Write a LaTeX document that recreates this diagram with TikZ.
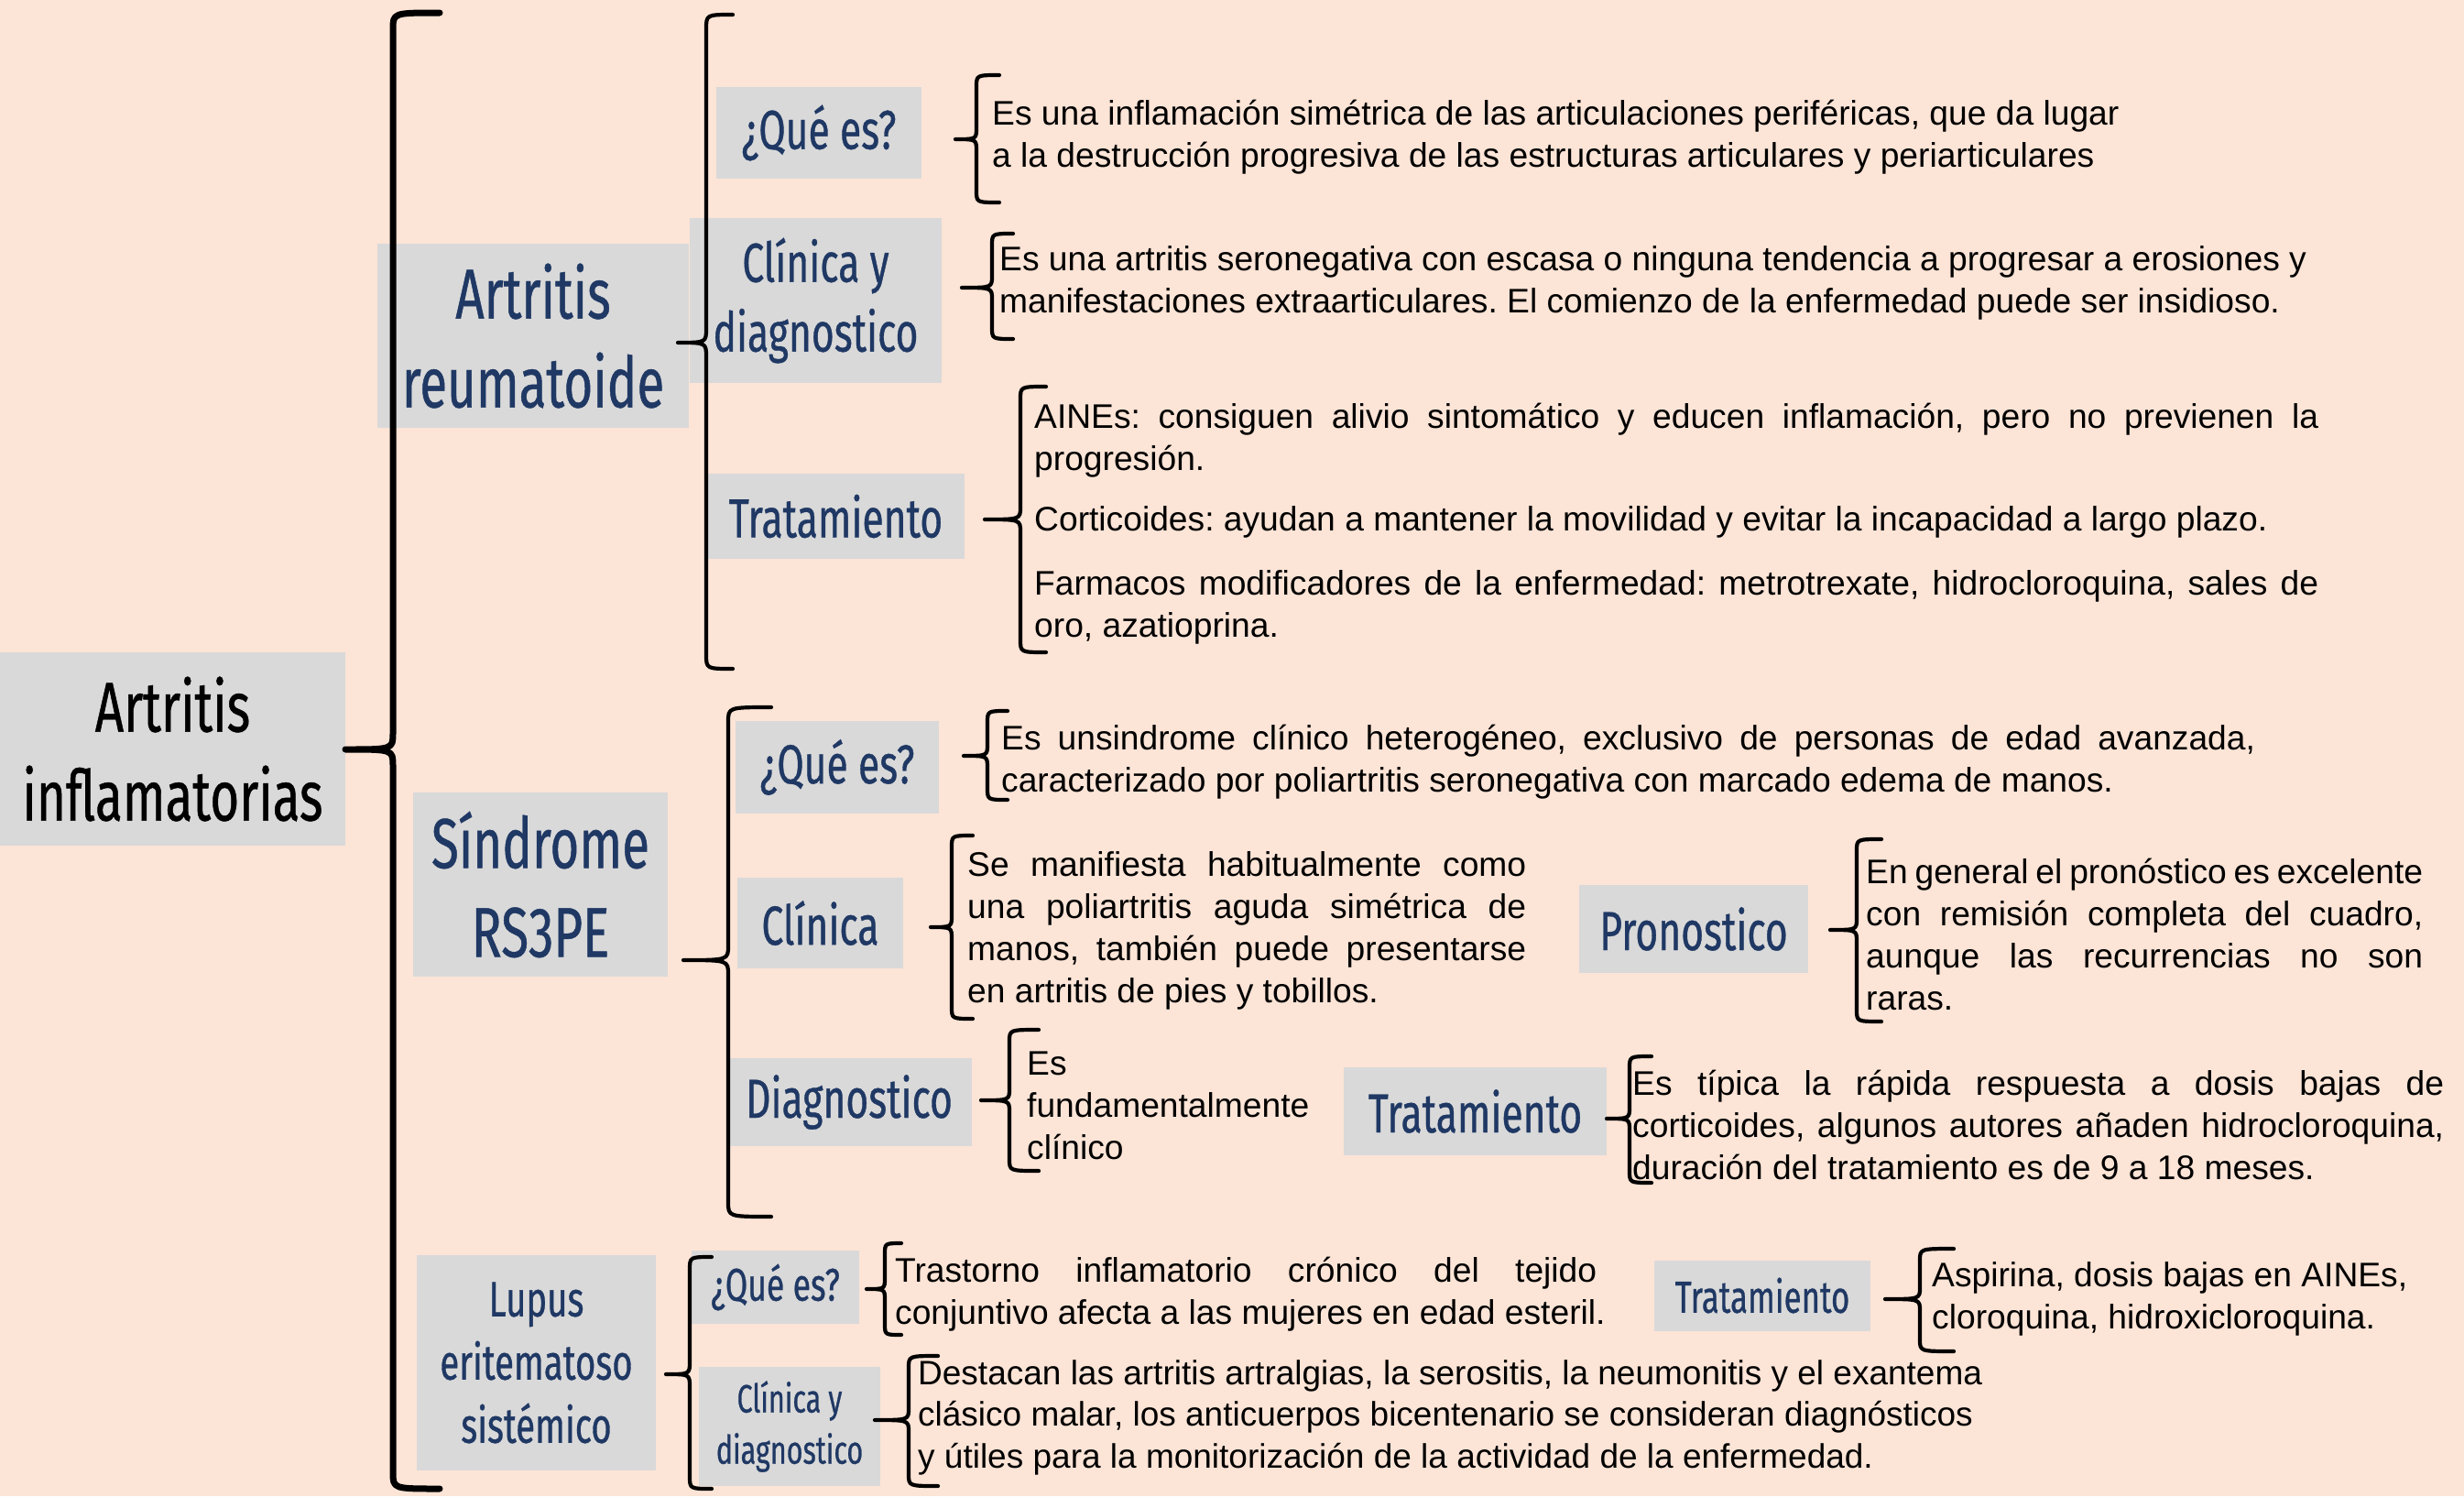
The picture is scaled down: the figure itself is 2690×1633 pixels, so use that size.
\documentclass[tikz,border=0pt]{standalone}
\usepackage{fontspec}
\setmainfont{Liberation Sans}
\newfontfamily\headfont[FakeStretch=0.71,FakeBold=0.6]{Fira Sans}
\definecolor{bgpeach}{HTML}{FCE4D6}
\definecolor{boxgray}{HTML}{D9D9D9}
\definecolor{navy}{HTML}{1F3864}
\frenchspacing
% optional style, vx, top, bottom, hookx, tipx, tipy, radius
\newcommand\brk[8][]{%
  \draw[brline,#1] ({#5},{#3}) .. controls ({#2},{#3}) .. ({#2},{#3+#8})
   -- ({#2},{#7-#8}) .. controls ({#2},{#7}) .. ({#6},{#7})
   .. controls ({#2},{#7}) .. ({#2},{#7+#8})
   -- ({#2},{#4-#8}) .. controls ({#2},{#4}) .. ({#5},{#4});}
\newcommand\jl[2]{\makebox[#1pt][s]{#2}}
\tikzset{
  hbox/.style={fill=boxgray, inner sep=0pt, align=center, text=navy},
  btext/.style={anchor=west, inner sep=0pt, align=left, font=\fontsize{37.2}{46}\selectfont},
  brline/.style={line width=4.2pt, line cap=round, line join=round},
  hbig/.style={font=\headfont\fontsize{77}{97}\selectfont},
  hmid/.style={font=\headfont\fontsize{60}{76}\selectfont},
}
\begin{document}
\begin{tikzpicture}[x=1pt,y=-1pt]
\path[fill=bgpeach] (0,0) rectangle (2690,1633);
\useasboundingbox (0,0) rectangle (2690,1633);
% boxes
\node[hbox, text=black, hbig, minimum width=377pt, minimum height=211pt] (root) at (188.5,817.5) {Artritis\\inflamatorias};
\node[hbox, hbig, minimum width=340pt, minimum height=201pt] (ar) at (582,366.5) {Artritis\\reumatoide};
\node[hbox, hmid, minimum width=224pt, minimum height=100pt] (arq) at (894,145) {¿Qué es?};
\node[hbox, hmid, minimum width=275pt, minimum height=180pt] (arc) at (890.5,328) {Clínica y\\diagnostico};
\node[hbox, hmid, minimum width=281pt, minimum height=93pt] (art) at (912.5,563.5) {Tratamiento};
\node[hbox, hbig, minimum width=278pt, minimum height=201pt] (rs) at (590,965.5) {Síndrome\\RS3PE};
\node[hbox, hmid, minimum width=222pt, minimum height=101pt] (rsq) at (914,837.5) {¿Qué es?};
\node[hbox, hmid, minimum width=181pt, minimum height=99pt] (rsc) at (895.5,1007.5) {Clínica};
\node[hbox, hmid, minimum width=268pt, minimum height=96pt] (rsd) at (927,1203) {Diagnostico};
\node[hbox, hmid, minimum width=250pt, minimum height=96pt] (rsp) at (1849,1014) {Pronostico};
\node[hbox, hmid, minimum width=287pt, minimum height=96pt] (rst) at (1610.5,1213) {Tratamiento};
\node[hbox, font=\headfont\fontsize{54}{69}\selectfont, minimum width=261pt, minimum height=235pt] (lu) at (585.5,1487.5) {Lupus\\eritematoso\\sistémico};
\node[hbox, font=\headfont\fontsize{50}{60}\selectfont, minimum width=183pt, minimum height=80pt] (luq) at (846.5,1405) {¿Qué es?};
\node[hbox, font=\headfont\fontsize{43}{56}\selectfont, minimum width=198pt, minimum height=130pt] (luc) at (862,1557) {Clínica y\\diagnostico};
\node[hbox, font=\headfont\fontsize{49}{60}\selectfont, minimum width=236pt, minimum height=77pt] (lut) at (1924,1414) {Tratamiento};
% brackets
\brk[line width=7pt]{429}{14}{1625}{480}{377}{818}{18}
\brk{771}{16}{730}{800}{740}{374}{16}
\brk{795}{772}{1328}{842}{746}{1048}{16}
\brk{753}{1372}{1625}{777}{727}{1500}{14}
\brk{1066}{82}{221}{1091}{1043}{152}{13}
\brk{1083}{255}{370}{1106}{1050}{314}{13}
\brk{1114}{422}{712}{1142}{1075}{567}{14}
\brk{1078}{776}{873}{1100}{1052}{825}{13}
\brk{1039}{912}{1112}{1062}{1016}{1012}{13}
\brk{2027}{916}{1115}{2054}{1998}{1015}{13}
\brk{1102}{1124}{1278}{1134}{1071}{1201}{13}
\brk{1779}{1153}{1291}{1803}{1754}{1221}{13}
\brk{966}{1357}{1457}{984}{946}{1407}{12}
\brk{2096}{1363}{1475}{2133}{2058}{1418}{13}
\brk{992}{1480}{1622}{1024}{955}{1550}{13}
% texts
\node[btext] (t1) at (1083,150) {Es una inflamación simétrica de las articulaciones periféricas, que da lugar\\a la destrucción progresiva de las estructuras articulares y periarticulares};
\node[btext] (t2) at (1091,309) {Es una artritis seronegativa con escasa o ninguna tendencia a progresar a erosiones y\\manifestaciones extraarticulares. El comienzo de la enfermedad puede ser insidioso.};
\node[btext] (t3) at (1129,572) {\jl{1402}{AINEs: consiguen alivio sintomático y educen inflamación, pero no previenen la}\\progresión.\\[20pt]Corticoides: ayudan a mantener la movilidad y evitar la incapacidad a largo plazo.\\[24pt]\jl{1402}{Farmacos modificadores de la enfermedad: metrotrexate, hidrocloroquina, sales de}\\oro, azatioprina.};
\node[btext] (t4) at (1093,832) {\jl{1369}{Es unsindrome clínico heterogéneo, exclusivo de personas de edad avanzada,}\\caracterizado por poliartritis seronegativa con marcado edema de manos.};
\node[btext] (t5) at (1056,1016) {\jl{610}{Se manifiesta habitualmente como}\\\jl{610}{una poliartritis aguda simétrica de}\\\jl{610}{manos, también puede presentarse}\\en artritis de pies y tobillos.};
\node[btext] (t6) at (2037,1020) {\jl{608}{En general el pronóstico es excelente}\\\jl{608}{con remisión completa del cuadro,}\\\jl{608}{aunque las recurrencias no son}\\raras.};
\node[btext] (t7) at (1121,1207) {Es\\fundamentalmente\\clínico};
\node[btext] (t8) at (1782,1228) {\jl{886}{Es típica la rápida respuesta a dosis bajas de}\\\jl{886}{corticoides, algunos autores añaden hidrocloroquina,}\\duración del tratamiento es de 9 a 18 meses.};
\node[btext] (t9) at (977,1413) {\jl{766}{Trastorno inflamatorio crónico del tejido}\\conjuntivo afecta a las mujeres en edad esteril.};
\node[btext] (t10) at (2109,1418) {Aspirina, dosis bajas en AINEs,\\cloroquina, hidroxicloroquina.};
\node[btext, font=\fontsize{37}{45.5}\selectfont] (t11) at (1002,1547) {Destacan las artritis artralgias, la serositis, la neumonitis y el exantema\\clásico malar, los anticuerpos bicentenario se consideran diagnósticos\\y útiles para la monitorización de la actividad de la enfermedad.};
\end{tikzpicture}
\end{document}
